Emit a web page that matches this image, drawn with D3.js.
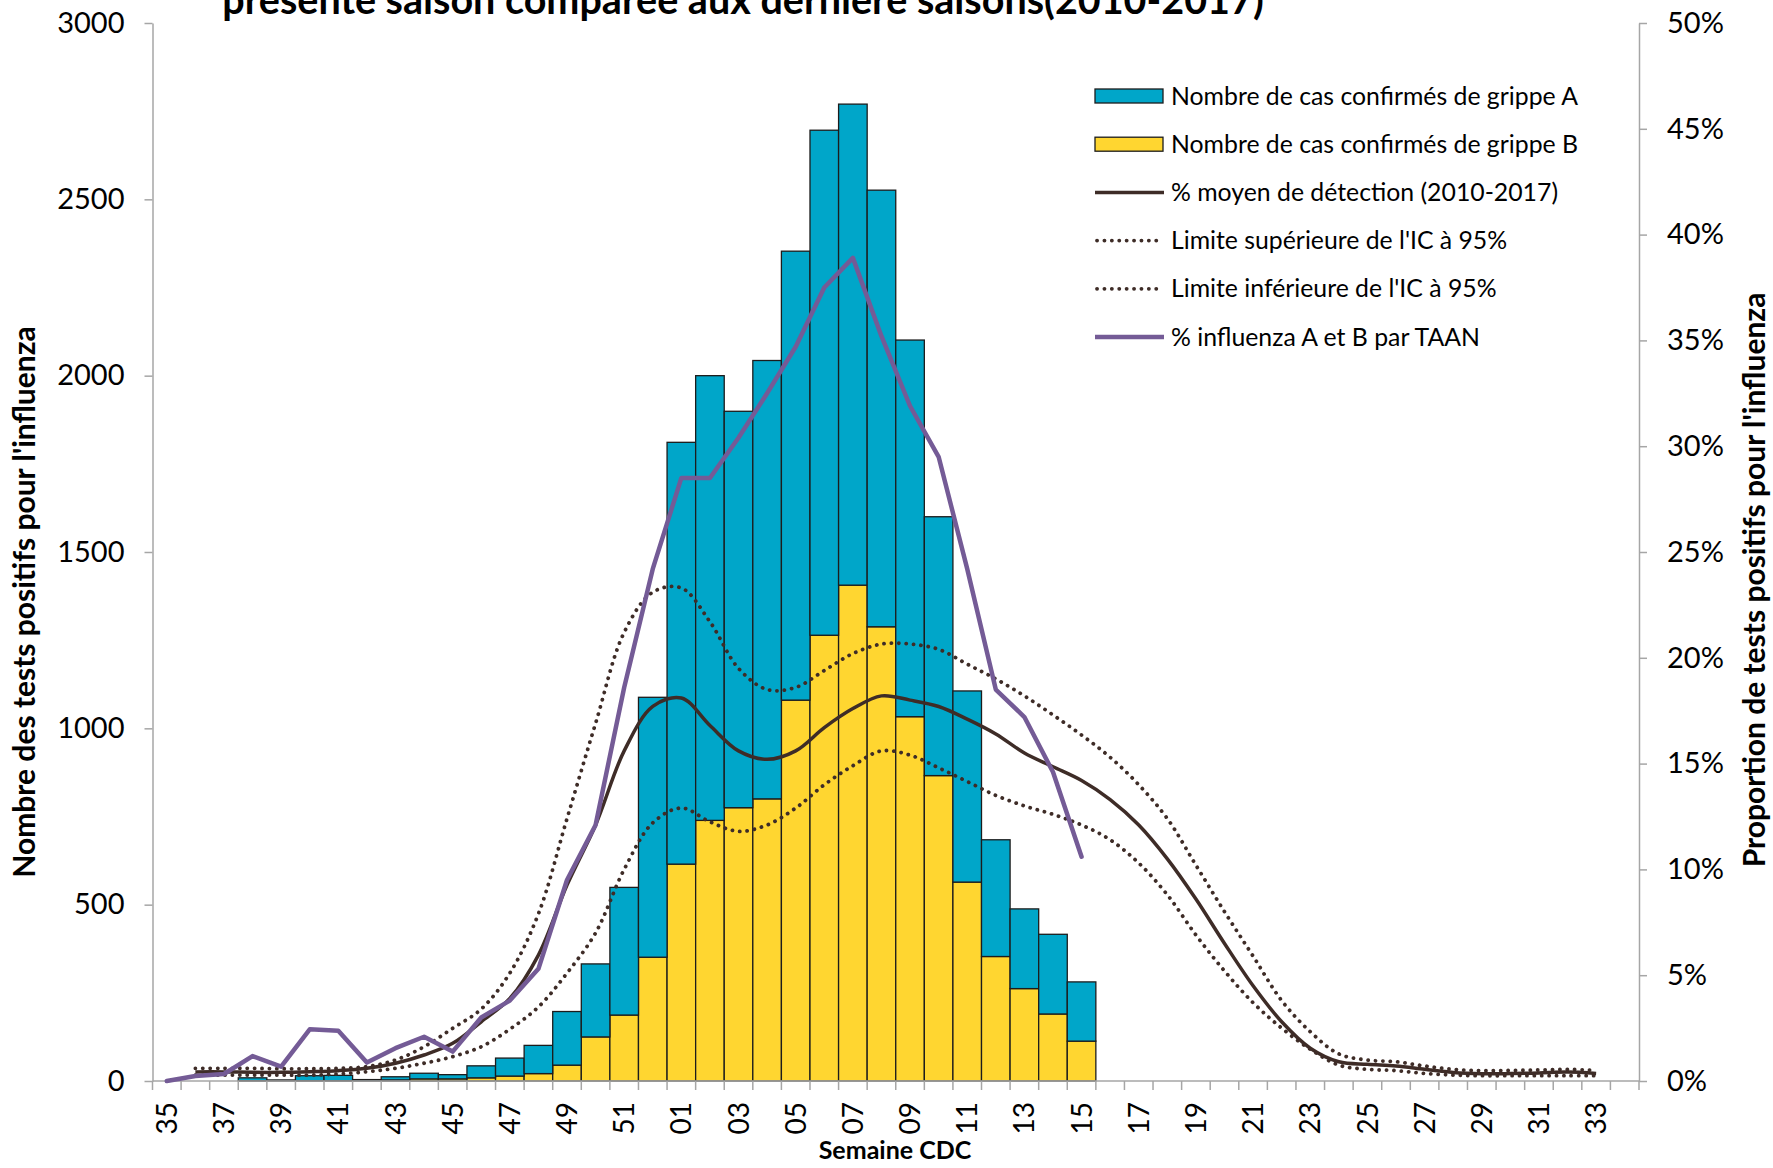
<!DOCTYPE html>
<meta charset="utf-8">
<body>
    <div id='chart'></div>
</body>
<script src="https://d3js.org/d3.v7.min.js"></script>
<style>
    body {
        margin: 0;
        background: #fff;
    }
    text {
        font-family: Lato, "Open Sans", sans-serif;
        fill: #000;
    }
    .axis path, .axis line {
        stroke: #a6a6a6;
        stroke-width: 1.5px;
    }
</style>
<script>

    // semaines CDC 35 -> 34
    var weeks = ["35","36","37","38","39","40","41","42","43","44","45","46","47","48","49","50","51","52",
        "01","02","03","04","05","06","07","08","09","10","11","12","13","14","15","16","17","18","19","20",
        "21","22","23","24","25","26","27","28","29","30","31","32","33","34"];

    // nombre de cas confirmés (semaines 35 -> 15)
    var grippeA = [0,0,0,8,3,14,15,4,9,16,12,34,51,80,152,207,362,737,
        1196,1261,1124,1243,1273,1432,1364,1238,1068,734,542,331,226,226,168];
    var grippeB = [0,0,0,1,0,1,1,0,3,6,6,9,14,21,45,125,187,351,
        615,739,775,800,1080,1264,1406,1288,1033,866,564,353,262,190,113];

    // % moyen de détection 2010-2017 et IC 95%
    var moyen = [null,0.43,0.43,0.41,0.41,0.44,0.49,0.6,0.84,1.23,1.78,2.8,3.9,5.95,9.26,12.1,15.6,17.7,
        18.1,16.8,15.6,15.2,15.6,16.7,17.6,18.2,18.0,17.7,17.1,16.4,15.5,14.85,14.2,13.3,12.1,10.5,8.6,6.5,
        4.5,2.8,1.55,0.91,0.79,0.71,0.55,0.40,0.34,0.35,0.38,0.42,0.36,null];
    var icSup = [null,0.6,0.6,0.6,0.58,0.58,0.6,0.68,0.99,1.62,2.49,3.4,5.1,7.9,12.4,16.9,21.2,23.1,
        23.3,21.7,19.5,18.5,18.6,19.4,20.2,20.65,20.65,20.4,19.7,19.0,18.2,17.3,16.35,15.3,14.0,12.4,10.2,8.0,
        5.9,3.8,2.33,1.28,0.99,0.91,0.71,0.55,0.49,0.5,0.52,0.55,0.5,null];
    var icInf = [null,0.28,0.28,0.28,0.28,0.28,0.33,0.44,0.6,0.84,1.15,1.62,2.45,3.5,5.1,7.0,10.0,12.2,
        12.9,12.25,11.8,12.1,12.9,14.0,14.9,15.6,15.4,14.8,14.15,13.5,13.0,12.6,12.1,11.4,10.3,8.8,6.9,5.2,
        3.7,2.5,1.5,0.75,0.55,0.49,0.36,0.28,0.25,0.25,0.25,0.25,0.25,null];

    // % influenza A et B par TAAN (semaines 35 -> 15)
    var taan = [0,0.24,0.33,1.18,0.68,2.44,2.38,0.87,1.55,2.09,1.39,3.0,3.8,5.3,9.5,12.1,18.6,24.2,
        28.5,28.5,30.4,32.5,34.7,37.5,38.9,35.2,31.9,29.5,24.2,18.5,17.2,14.6,10.6];

    var leftTicks = [0,500,1000,1500,2000,2500,3000];
    var rightTicks = [0,5,10,15,20,25,30,35,40,45,50];

    var legendLabels = ["Nombre de cas confirmés de grippe A", "Nombre de cas confirmés de grippe B",
        "% moyen de détection (2010-2017)", "Limite supérieure de l'IC à 95%",
        "Limite inférieure de l'IC à 95%", "% influenza A et B par TAAN"];

    var width = 1773,
        height = 1168;

    var colA = "#00a6c9",
        colB = "#ffd630",
        colMoyen = "#3e2c27",
        colTaan = "#745b96";

    var svg = d3.select("#chart")
        .append("svg")
            .attr("width", width)
            .attr("height", height)
            .style("display", "block");

    svg.append("rect").attr("width", width).attr("height", height).attr("fill", "#fff");

    var x = d3.scaleBand().domain(weeks).range([152.5, 1639]).padding(0);
    var y = d3.scaleLinear().domain([0, 3000]).range([1081, 23]);
    var y2 = d3.scaleLinear().domain([0, 50]).range([1081, 23]);

    // barres empilées
    var barData = grippeB.map(function(b, i) {
        return {week: weeks[i], a: grippeA[i], b: b};
    });

    var bars = svg.append("g").attr("class", "bars");

    bars.selectAll("rect.b")
        .data(barData)
        .enter().append("rect")
            .attr("class", "b")
            .attr("x", d => x(d.week))
            .attr("width", x.bandwidth())
            .attr("y", d => y(d.b))
            .attr("height", d => y(0) - y(d.b))
            .attr("fill", colB)
            .attr("stroke", "#1c1c1c")
            .attr("stroke-width", 1.3);

    bars.selectAll("rect.a")
        .data(barData)
        .enter().append("rect")
            .attr("class", "a")
            .attr("x", d => x(d.week))
            .attr("width", x.bandwidth())
            .attr("y", d => y(d.a + d.b))
            .attr("height", d => y(d.b) - y(d.a + d.b))
            .attr("fill", colA)
            .attr("stroke", "#1c1c1c")
            .attr("stroke-width", 1.3);

    // axes
    var xAxis = svg.append("g")
        .attr("class", "axis")
        .attr("transform", "translate(0," + y(0) + ")")
        .call(d3.axisBottom(x).tickSize(0).tickFormat((d, i) => i % 2 == 0 ? d : ""));

    xAxis.select(".domain").attr("d", "M152.5,0H1639");
    xAxis.selectAll("text")
        .attr("transform", "rotate(-90)")
        .attr("x", -21)
        .attr("y", 0)
        .attr("dy", "0.36em")
        .attr("text-anchor", "end")
        .style("font-size", "28px");

    xAxis.selectAll("line.sep")
        .data(weeks.map(w => x(w)).concat([x.range()[1]]))
        .enter().append("line")
            .attr("class", "sep")
            .attr("x1", d => d)
            .attr("x2", d => d)
            .attr("y1", 0)
            .attr("y2", 9);

    var yAxis = svg.append("g")
        .attr("class", "axis")
        .attr("transform", "translate(152.5,0)")
        .call(d3.axisLeft(y).tickValues(leftTicks).tickSize(8).tickPadding(20).tickSizeOuter(0)
            .tickFormat(d3.format("d")));
    yAxis.selectAll("text").style("font-size", "29px");

    var y2Axis = svg.append("g")
        .attr("class", "axis")
        .attr("transform", "translate(1639,0)")
        .call(d3.axisRight(y2).tickValues(rightTicks).tickSize(8).tickPadding(20).tickSizeOuter(0)
            .tickFormat(d => d + "%"));
    y2Axis.selectAll("text").style("font-size", "29px");

    // lignes
    function lineOf(curve) {
        return d3.line()
            .defined(d => d.v != null)
            .x(d => x(d.week) + x.bandwidth() / 2)
            .y(d => y2(d.v))
            .curve(curve);
    }
    function series(arr) {
        return arr.map((v, i) => ({week: weeks[i], v: v}));
    }

    var smooth = lineOf(d3.curveCatmullRom.alpha(0.5));

    [icSup, icInf].forEach(function(arr) {
        svg.append("path")
            .datum(series(arr))
            .attr("d", smooth)
            .attr("fill", "none")
            .attr("stroke", colMoyen)
            .attr("stroke-width", 3.8)
            .attr("stroke-linecap", "round")
            .attr("stroke-dasharray", "0.1 7.3");
    });

    svg.append("path")
        .datum(series(moyen))
        .attr("d", smooth)
        .attr("fill", "none")
        .attr("stroke", colMoyen)
        .attr("stroke-width", 3.5);

    svg.append("path")
        .datum(series(taan))
        .attr("d", lineOf(d3.curveLinear))
        .attr("fill", "none")
        .attr("stroke", colTaan)
        .attr("stroke-width", 4.5)
        .attr("stroke-linejoin", "round")
        .attr("stroke-linecap", "round");

    // légende
    var legend = svg.append("g").attr("class", "legend");
    var rowY = d3.scaleLinear().domain([0, 5]).range([96, 337]);

    legendLabels.forEach(function(label, i) {
        var g = legend.append("g").attr("transform", "translate(0," + rowY(i) + ")");
        if (i < 2) {
            g.append("rect")
                .attr("x", 1095).attr("y", -7).attr("width", 68).attr("height", 14)
                .attr("fill", i == 0 ? colA : colB)
                .attr("stroke", "#1c1c1c").attr("stroke-width", 1.3);
        } else {
            var ln = g.append("line")
                .attr("x1", 1095).attr("x2", 1164)
                .attr("y1", 0).attr("y2", 0)
                .attr("stroke", i == 5 ? colTaan : colMoyen)
                .attr("stroke-width", i == 5 ? 4.5 : 3.5);
            if (i == 3 || i == 4) {
                ln.attr("stroke-dasharray", "0.1 7.3").attr("stroke-linecap", "round")
                    .attr("stroke-width", 3.8).attr("x1", 1097).attr("x2", 1160);
            }
        }
        g.append("text")
            .attr("x", 1171)
            .attr("y", 0)
            .attr("dy", "0.35em")
            .style("font-size", "24.8px")
            .text(label);
    });

    // titres
    svg.append("text")
        .attr("x", 743)
        .attr("y", 14)
        .attr("text-anchor", "middle")
        .style("font-size", "39.5px")
        .style("font-weight", "bold")
        .text("présente saison comparée aux dernière saisons(2010-2017)");

    svg.append("text")
        .attr("transform", "translate(35,602) rotate(-90)")
        .attr("text-anchor", "middle")
        .style("font-size", "30px")
        .style("font-weight", "bold")
        .text("Nombre  des tests positifs pour l'influenza");

    svg.append("text")
        .attr("transform", "translate(1765,580) rotate(-90)")
        .attr("text-anchor", "middle")
        .style("font-size", "30px")
        .style("font-weight", "bold")
        .text("Proportion de tests positifs pour l'influenza");

    svg.append("text")
        .attr("x", 895)
        .attr("y", 1159)
        .attr("text-anchor", "middle")
        .style("font-size", "25px")
        .style("font-weight", "bold")
        .text("Semaine CDC");

</script>
